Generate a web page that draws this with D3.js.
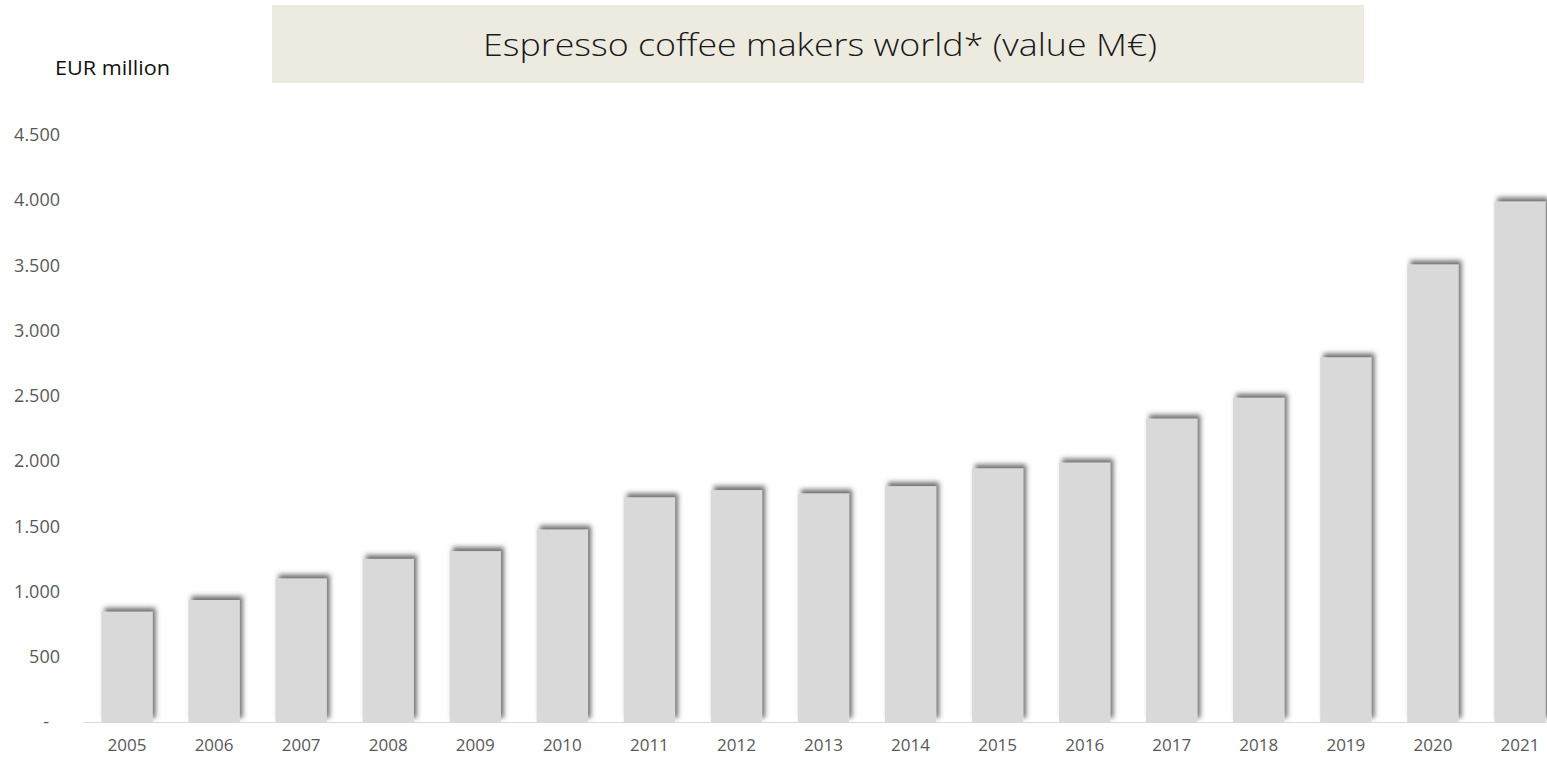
<!DOCTYPE html>
<html>
<head>
<meta charset="utf-8">
<script src="https://cdn.jsdelivr.net/npm/d3@7/dist/d3.min.js"></script>
<style>
  html, body { margin: 0; padding: 0; background: #fff; overflow: hidden; }
  svg { display: block; }
</style>
</head>
<body>
<svg id="chart" width="1547" height="763"></svg>
<script>
// ---- data ----
const years = ["2005","2006","2007","2008","2009","2010","2011","2012","2013","2014","2015","2016","2017","2018","2019","2020","2021"];
const values = [845, 935, 1100, 1250, 1310, 1475, 1722, 1778, 1752, 1808, 1944, 1988, 2325, 2485, 2795, 3507, 3990];
const yTicks = [0, 500, 1000, 1500, 2000, 2500, 3000, 3500, 4000, 4500];
const titleText = "Espresso coffee makers world* (value M\u20AC)";
const unitText = "EUR million";

// ---- layout ----
const svg = d3.select("#chart");
const font = "'Open Sans', 'Noto Sans', sans-serif";

const x = d3.scaleBand().domain(years).range([83.5, 1563.5]).paddingInner(0.41).paddingOuter(0.205);
const y = d3.scaleLinear().domain([0, 4500]).range([722, 135]);

// shadow filter
const defs = svg.append("defs");
const f = defs.append("filter").attr("id", "shadow").attr("x", "-30%").attr("y", "-10%").attr("width", "160%").attr("height", "120%");
f.append("feDropShadow").attr("dx", 3).attr("dy", -4).attr("stdDeviation", 2.6)
  .attr("flood-color", "#404040").attr("flood-opacity", 0.75);

// title box
svg.append("rect").attr("x", 272).attr("y", 5).attr("width", 1092).attr("height", 78).attr("fill", "#edeae0");
svg.append("text").attr("x", 820).attr("y", 56).attr("text-anchor", "middle")
  .attr("font-family", font).attr("font-weight", 300).attr("font-size", 32).attr("fill", "#1a1a1a")
  .attr("textLength", 674).attr("lengthAdjust", "spacingAndGlyphs")
  .text(titleText);

// unit label
svg.append("text").attr("x", 55).attr("y", 75)
  .attr("font-family", font).attr("font-size", 20).attr("fill", "#111")
  .attr("textLength", 115).attr("lengthAdjust", "spacingAndGlyphs")
  .text(unitText);

// y axis labels
const yAxis = d3.axisLeft(y).tickValues(yTicks).tickSize(0).tickPadding(0)
  .tickFormat(d => d === 0 ? "-" : d3.format(",")(d).replace(/,/g, "."));
const gy = svg.append("g").attr("transform", "translate(60,0)").call(yAxis);
gy.select(".domain").remove();
gy.selectAll("text").attr("font-family", font).attr("font-size", 18).attr("fill", "#595959")
  .attr("dx", d => d === 0 ? -11 : 0);

// bars
svg.append("g").selectAll("rect").data(years).join("rect")
  .attr("x", d => x(d))
  .attr("y", (d, i) => y(values[i]))
  .attr("width", x.bandwidth())
  .attr("height", (d, i) => y(0) - y(values[i]))
  .attr("fill", "#d9d9d9")
  .attr("filter", "url(#shadow)");

// x axis
const xAxis = d3.axisBottom(x).tickSize(0).tickPadding(17);
const gx = svg.append("g").attr("transform", `translate(0,${y(0)})`).call(xAxis);
gx.select(".domain").attr("stroke", "#d9d9d9").attr("d", "M84,0.5H1563");
gx.selectAll("text").attr("font-family", font).attr("font-size", 17).attr("fill", "#595959");
</script>
</body>
</html>
